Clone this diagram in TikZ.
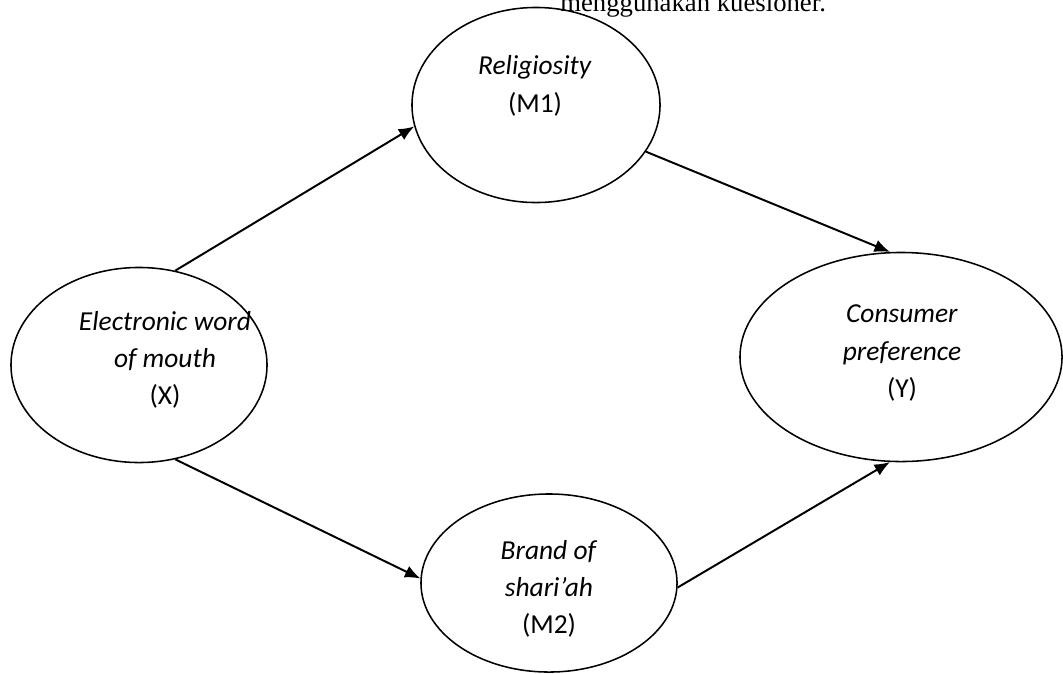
\documentclass[tikz,border=0pt]{standalone}
\usepackage{fontspec}
\setmainfont{Carlito}
\newfontfamily\bodyserif{Liberation Serif}
\usetikzlibrary{shapes.geometric,arrows.meta,positioning}

\begin{document}
\begin{tikzpicture}[x=0.025cm,y=-0.025cm,
		latent/.style={draw,ellipse,line width=1.1pt,inner sep=0pt},
		effect/.style={line width=1.4pt,-{Latex[length=11pt,width=9pt]}},
		lbl/.style={align=center,font=\fontsize{19.5}{26.5}\selectfont}]
	
	\clip (0,0) rectangle (1063,673);
	\fill[white] (0,0) rectangle (1063,673);
	
	% line of running text cut off by the frame
	\node[anchor=base west,inner sep=0pt,font=\bodyserif\fontsize{19}{22}\selectfont] (run) at (560,11) {menggunakan kuesioner.};
	
	% constructs
	\node[latent,minimum width=6.2cm,minimum height=4.875cm] (M1) at (536,105) {};
	\node[latent,minimum width=6.4cm,minimum height=4.875cm] (X) at (139,365) {};
	\node[latent,minimum width=8.05cm,minimum height=5.225cm] (Y) at (901,357) {};
	\node[latent,minimum width=6.4cm,minimum height=4.45cm] (M2) at (549,583) {};
	
	\node[lbl] (tM1) at (535,86) {\textit{Religiosity}\\(M1)};
	\node[lbl] (tX) at (165,360) {\textit{Electronic word}\\\textit{of mouth}\\(X)};
	\node[lbl] (tY) at (902,353) {\textit{Consumer}\\\textit{preference}\\(Y)};
	\node[lbl] (tM2) at (549,589) {\textit{Brand of}\\\textit{shari’ah}\\(M2)};
	
	% paths
	\draw[effect] (X.69) -- (M1.190);
	\draw[effect] (M1.337) -- (Y.96);
	\draw[effect] (X.291) -- (M2.178);
	\draw[effect] (M2.358) -- (Y.264);
	
\end{tikzpicture}
\end{document}
